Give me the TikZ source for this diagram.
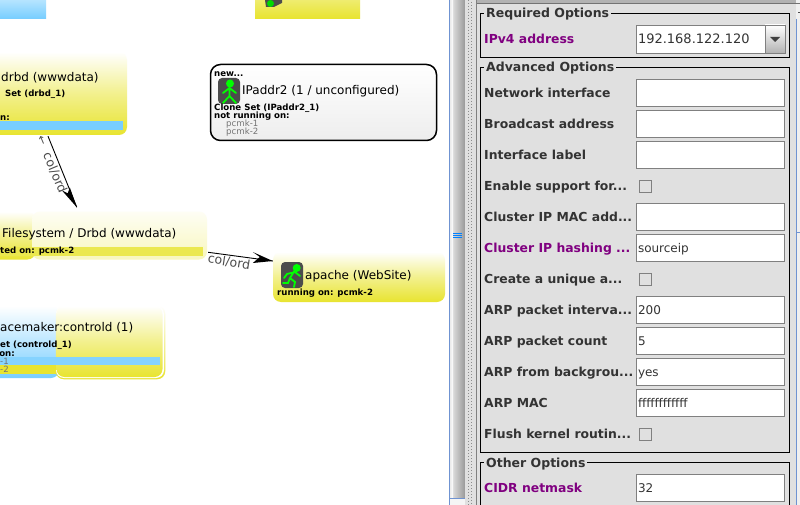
\documentclass[tikz,border=0pt]{standalone}
\usepackage{fontspec}
\setmainfont{DejaVu Sans}
\usepackage{xcolor}
\usetikzlibrary{calc}
\definecolor{hbyellow}{HTML}{E8E430}
\definecolor{hbblue}{HTML}{78CEFF}
\definecolor{hbpanel}{HTML}{E0E0E0}
\definecolor{hbpurple}{HTML}{800080}
\definecolor{hbtext}{HTML}{333333}
\definecolor{hbfield}{HTML}{808080}
\definecolor{hbstripe}{HTML}{6F93D2}

\begin{document}
\begin{tikzpicture}[x=1pt, y=-1pt, inner sep=0pt]

\tikzstyle{yellowbox} = [rectangle, rounded corners=8pt, top color=white, bottom color=hbyellow, middle color=hbyellow!55!white]
\tikzstyle{paleboxa} = [rectangle, rounded corners=8pt, top color=hbyellow!5!white, bottom color=hbyellow!32!white]
\tikzstyle{bluebox} = [rectangle, rounded corners=8pt, top color=white, bottom color=hbblue]
\tikzstyle{newbox} = [rectangle, rounded corners=10pt, draw=black, line width=1.5pt, top color=white, bottom color=black!7]
\tikzstyle{bar} = [rectangle, anchor=north west]
\tikzstyle{title} = [anchor=west, text height=9pt, text depth=0pt, font=\fontsize{12}{12}\selectfont]
\tikzstyle{small} = [anchor=west, text height=7pt, text depth=0pt, font=\fontsize{8.6}{9}\selectfont\bfseries]
\tikzstyle{hostname} = [anchor=west, text height=7pt, text depth=0pt, text=black!55, font=\fontsize{8.6}{9}\selectfont]
\tikzstyle{icon} = [rectangle, rounded corners=4pt, fill=black!70, minimum width=22pt, minimum height=26pt]
\tikzstyle{stick} = [line width=1.8pt, green, line cap=round]
\tikzstyle{arrow} = [thick, black, line width=0.9pt]
\tikzstyle{tip} = [fill=black]
\tikzstyle{edgelabel} = [text=black!70, font=\fontsize{12.5}{12.5}\selectfont]
\tikzstyle{group} = [rectangle, draw=black, line width=0.8pt, anchor=north west]
\tikzstyle{grouptitle} = [anchor=west, fill=hbpanel, inner xsep=2pt, text height=9pt, text depth=2pt, text=hbtext, font=\fontsize{12.5}{12.5}\selectfont\bfseries]
\tikzstyle{option} = [anchor=west, text height=9pt, text depth=0pt, text=hbtext, font=\fontsize{12.4}{12.4}\selectfont\bfseries]
\tikzstyle{required} = [option, text=hbpurple]
\tikzstyle{field} = [rectangle, fill=white, draw=hbfield, line width=0.9pt, minimum width=148pt, minimum height=27pt, text width=144pt, inner xsep=2pt, text height=9pt, text depth=0pt, text=hbtext, font=\fontsize{12}{12}\selectfont]
\tikzstyle{check} = [rectangle, fill=hbpanel, draw=hbfield, line width=0.9pt, minimum width=12.5pt, minimum height=12.5pt]

\path [use as bounding box, clip] (0,0) rectangle (800,505);

% graph side
\fill [white] (0,0) rectangle (449,505);
\node (topblue) [bar, top color=hbblue!55!white, bottom color=hbblue, minimum width=46pt, minimum height=18pt] at (0,0) {};
\node (topyellow) [bar, top color=hbyellow!70!white, bottom color=hbyellow, minimum width=105pt, minimum height=18pt] at (255,0) {};
\fill [black!70] (265,0) -- (282,0) -- (282,3) -- (274,7) -- (266,7) -- cycle;
\fill [green!85!black] (270.5,3.5) circle (3.5pt);

\node (drbd) [yellowbox, minimum width=167pt, minimum height=83pt] at (43.5,93.5) {};
\node (drbdbar) [bar, fill=hbblue, minimum width=123pt, minimum height=9pt] at (0,121) {};
\node (drbdtitle) [title] at (1,77) {drbd (wwwdata)};
\node (drbdset) [small] at (5,93) {Set (drbd\_1)};
\node (drbdon) [small] at (0,117.5) {n:};

\node (fsback) [yellowbox, minimum width=75pt, minimum height=48pt] at (-2,235.5) {};
\node (fs) [paleboxa, minimum width=175pt, minimum height=48pt] at (119.5,235.5) {};
\node (fsbar) [bar, fill=hbyellow!85!white, minimum width=203pt, minimum height=9pt] at (0,247) {};
\node (fstitle) [title] at (2,233) {Filesystem / Drbd (wwwdata)};
\node (fson) [small] at (0,250) {ted on: pcmk-2};

\node (pmback) [bluebox, minimum width=118pt, minimum height=72pt] at (0,342) {};
\node (pmouter) [yellowbox, minimum width=109.5pt, minimum height=73.5pt] at (110.5,342.5) {};
\node (pmrim) [rectangle, rounded corners=8pt, fill=white, minimum width=108pt, minimum height=72pt] at (110,342) {};
\node (pm) [yellowbox, minimum width=106pt, minimum height=71pt] at (109.5,341.5) {};
\node (pmbar) [bar, fill=hbblue!90!white, minimum width=160pt, minimum height=8pt] at (0,357) {};
\node (pmbarb) [bar, fill=hbyellow, minimum width=56pt, minimum height=9pt] at (0,365) {};
\node (pmtitle) [title] at (0,327) {acemaker:controld (1)};
\node (pmset) [small] at (0,344) {et (controld\_1)};
\node (pmon) [small, anchor=east] at (15,352.5) {on:};
\node (pmhosta) [hostname] at (0,360.5) {-1};
\node (pmhostb) [hostname] at (0,368.5) {-2};

\node (ip) [newbox, minimum width=226pt, minimum height=76pt] at (323.5,102.5) {};
\node (ipnew) [small] at (214,73) {new...};
\node (ipicon) [icon] at (229,91) {};
\fill [green] (230,83.5) circle (4pt);
\draw [stick] (229.5,86) -- (229.5,96) (223,93) -- (229.5,88) -- (236,93) (223,103) -- (229.5,96) -- (236,103);
\node (iptitle) [title] at (242,90) {IPaddr2 (1 / unconfigured)};
\node (ipset) [small] at (214,107) {Clone Set (IPaddr2\_1)};
\node (ipon) [small] at (214,115.5) {not running on:};
\node (iphosta) [hostname] at (226,123.5) {pcmk-1};
\node (iphostb) [hostname] at (226,131.5) {pcmk-2};

\node (apache) [yellowbox, minimum width=172pt, minimum height=50pt] at (359,277) {};
\node (apacheicon) [icon] at (292,275) {};
\fill [green] (296.7,268) circle (4pt);
\draw [stick] (295,270) -- (290,278) (284,278) -- (287,274) -- (295,272) -- (300,276) (290,278) -- (295,282) -- (294,287) (290,278) -- (288,283) -- (283,283);
\node (apachetitle) [title] at (305,275) {apache (WebSite)};
\node (apacheon) [small] at (277,292) {running on: pcmk-2};

% connectors
\draw [arrow] ($(drbd.south)+(4.5,1)$) -- ($(fs.north west)+(45,-4)$);
\fill [tip] ($(fs.north west)+(45,-4)$) -- ($(fs.north west)+(30,-21)$) -- ($(fs.north west)+(36,-18)$) -- ($(fs.north west)+(38,-24)$) -- cycle;
\draw [arrow] ($(fs.north east)+(1,41)$) -- ($(apache.west)+(0,-16)$);
\fill [tip] ($(apache.west)+(0,-16)$) -- ($(apache.west)+(-20,-25)$) -- ($(apache.west)+(-13,-20)$) -- ($(apache.west)+(-20,-14)$) -- cycle;
\node (labela) [edgelabel, rotate=-67] at (55,173) {col/ord};
\node (labelarrow) [edgelabel, rotate=-67, font=\fontsize{11}{11}\selectfont] at (41.5,141) {←};
\node (labelb) [edgelabel, rotate=-9] at (229,262) {col/ord};

% divider
\fill [left color=black!8, right color=black!40] (450,0) rectangle (465,505);
\fill [left color=black!8, right color=white] (450,0) rectangle (453,505);
\draw [hbstripe, line width=0.8pt] (449.5,0) -- (449.5,505);
\draw [hbstripe, line width=0.6pt] (449,498) -- (465,498);
\fill [black!4] (449.5,498.5) rectangle (465,505);
\draw [blue!50!cyan, line width=0.6pt] (453,233) -- (462,233) (453,235) -- (462,235) (453,237) -- (462,237);
\fill [hbpanel] (465,0) rectangle (796,505);
\fill [black!6] (796,0) rectangle (800,505);
\draw [black!45, dotted, line width=1pt] (468,0) -- (468,505) (471,2) -- (471,505);
\draw [black!50, line width=0.6pt] (476,0) -- (476,505);
\fill [black!30] (477,0) rectangle (796,3);
\draw [black!55, line width=0.6pt] (477,3.5) -- (800,3.5);
\draw [hbstripe, line width=1pt] (796.5,19) -- (796.5,505);
\draw [hbstripe, line width=0.8pt] (796.5,232) -- (800,232);
\draw [black!70, line width=0.6pt] (798,12) -- (800,12);

% groups
\node (required) [group, minimum width=309pt, minimum height=44pt] at (480,13) {};
\node (advanced) [group, minimum width=309pt, minimum height=385pt] at (480,67) {};
\node (other) [group, minimum width=309pt, minimum height=60pt] at (480,462) {};
\node (requiredtitle) [grouptitle] at (484,14.5) {Required Options};
\node (advancedtitle) [grouptitle] at (484,68.5) {Advanced Options};
\node (othertitle) [grouptitle] at (484,463.5) {Other Options};

\node (ipv4) [required] at (484,39) {IPv4 address};
\node (ipv4field) [field, minimum width=129pt, text width=125pt, minimum height=28pt, font=\fontsize{13}{13}\selectfont] at (700.5,39) {192.168.122.120};
\node (ipv4button) [rectangle, draw=hbfield, line width=0.9pt, top color=white, bottom color=black!30, minimum width=20pt, minimum height=28pt] at (775,39) {};
\fill [black!75] ($(ipv4button.center)+(-5,-2)$) -- ($(ipv4button.center)+(5,-2)$) -- ($(ipv4button.center)+(0,3)$) -- cycle;

\node (netif) [option] at (484,93) {Network interface};
\node (netiffield) [field] at (710,92.5) {};
\node (bcast) [option] at (484,124) {Broadcast address};
\node (bcastfield) [field] at (710,123.5) {};
\node (iflabel) [option] at (484,155) {Interface label};
\node (iflabelfield) [field] at (710,154.5) {};
\node (enable) [option] at (484,186) {Enable support for...};
\node (enablecheck) [check] at (645.5,186.5) {};
\node (ipmac) [option] at (484,217) {Cluster IP MAC add...};
\node (ipmacfield) [field] at (710,216.5) {};
\node (hash) [required] at (484,248) {Cluster IP hashing ...};
\node (hashfield) [field] at (710,247.5) {sourceip};
\node (unique) [option] at (484,279) {Create a unique a...};
\node (uniquecheck) [check] at (645.5,279.5) {};
\node (arpint) [option] at (484,310) {ARP packet interva...};
\node (arpintfield) [field] at (710,310) {200};
\node (arpcount) [option] at (484,341) {ARP packet count};
\node (arpcountfield) [field] at (710,341) {5};
\node (arpbg) [option] at (484,372) {ARP from backgrou...};
\node (arpbgfield) [field] at (710,371.5) {yes};
\node (arpmac) [option] at (484,403) {ARP MAC};
\node (arpmacfield) [field] at (710,402.5) {ffffffffffff};
\node (flush) [option] at (484,434) {Flush kernel routin...};
\node (flushcheck) [check] at (645.5,434.5) {};
\node (cidr) [required] at (484,488) {CIDR netmask};
\node (cidrfield) [field] at (710,487.5) {32};

\end{tikzpicture}
\end{document}
